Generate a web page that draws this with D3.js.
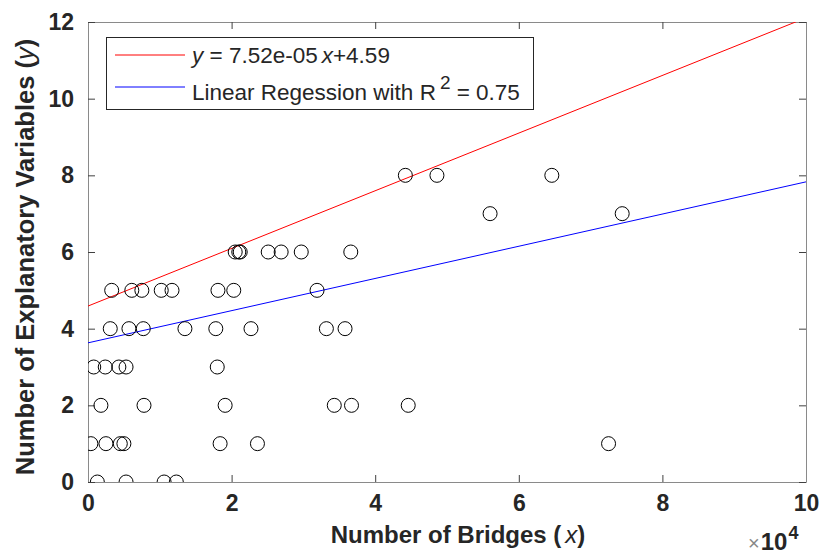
<!DOCTYPE html>
<html>
<head>
<meta charset="utf-8">
<script src="https://cdn.jsdelivr.net/npm/d3@7"></script>
<style>
  body { margin: 0; background: #fff; }
  svg text { font-family: "Liberation Sans", Arial, sans-serif; fill: #262626; }
</style>
</head>
<body>
<svg id="chart" width="822" height="556"></svg>
<script>
// data (x in units of 1e4 bridges, y = number of explanatory variables)
const bridgesX = [
  2.05, 2.10, 2.12, 2.51, 2.69, 2.97, 3.66,
  0.33, 0.61, 0.75, 1.02, 1.17, 1.81, 2.03, 3.19,
  0.31, 0.57, 0.77, 1.35, 1.78, 2.27, 3.32, 3.58,
  0.08, 0.24, 0.43, 0.53, 1.80,
  0.18, 0.78, 1.91, 3.43, 3.67, 4.46,
  0.04, 0.25, 0.45, 0.50, 1.84, 2.36, 7.25,
  0.13, 0.53, 1.06, 1.23,
  4.42, 4.86, 6.46,
  5.60, 7.44
];
const variablesY = [
  6, 6, 6, 6, 6, 6, 6,
  5, 5, 5, 5, 5, 5, 5, 5,
  4, 4, 4, 4, 4, 4, 4, 4,
  3, 3, 3, 3, 3,
  2, 2, 2, 2, 2, 2,
  1, 1, 1, 1, 1, 1, 1,
  0, 0, 0, 0,
  8, 8, 8,
  7, 7
];
// fitted lines: [intercept, slope per 1e4]
const redFit = [4.59, 0.752];
const blueFit = [3.63, 0.42];
const xTicks = [0, 2, 4, 6, 8, 10];
const yTicks = [0, 2, 4, 6, 8, 10, 12];

const attr = { left: 88, top: 22, right: 806, bottom: 482 };
const svg = d3.select("svg#chart");

const x = d3.scaleLinear().domain([0, 10]).range([attr.left, attr.right]);
const y = d3.scaleLinear().domain([0, 12]).range([attr.bottom, attr.top]);

svg.append("clipPath").attr("id", "clip")
  .append("rect")
  .attr("x", attr.left).attr("y", attr.top)
  .attr("width", attr.right - attr.left).attr("height", attr.bottom - attr.top);

// axes box with inward ticks on all sides
const tickLen = 7;
const axisColor = "#8a8a8a";
function styleAxis(g) {
  g.select(".domain").attr("stroke", axisColor).attr("stroke-width", 1);
  g.selectAll(".tick line").attr("stroke", "#404040");
  g.selectAll(".tick text")
    .style("font-size", "23px").style("font-weight", "bold")
    .attr("fill", "#262626");
}

svg.append("g")
  .attr("transform", `translate(0,${attr.bottom})`)
  .call(d3.axisBottom(x).tickValues(xTicks).tickSize(-tickLen).tickSizeOuter(0).tickPadding(13).tickFormat(d3.format("d")))
  .call(styleAxis);
svg.append("g")
  .attr("transform", `translate(0,${attr.top})`)
  .call(d3.axisTop(x).tickValues(xTicks).tickSize(-tickLen).tickSizeOuter(0).tickFormat(""))
  .call(styleAxis);
svg.append("g")
  .attr("transform", `translate(${attr.left},0)`)
  .call(d3.axisLeft(y).tickValues(yTicks).tickSize(-tickLen).tickSizeOuter(0).tickPadding(14).tickFormat(d3.format("d")))
  .call(styleAxis);
svg.append("g")
  .attr("transform", `translate(${attr.right},0)`)
  .call(d3.axisRight(y).tickValues(yTicks).tickSize(-tickLen).tickSizeOuter(0).tickFormat(""))
  .call(styleAxis);

// fitted lines
const plot = svg.append("g").attr("clip-path", "url(#clip)");
const fitLine = d3.line().x(d => x(d[0])).y(d => y(d[1]));
[[redFit, "#ff0000"], [blueFit, "#0000ff"]].forEach(([f, c]) => {
  plot.append("path")
    .datum(x.domain().map(v => [v, f[0] + f[1] * v]))
    .attr("d", fitLine)
    .attr("fill", "none")
    .attr("stroke", c)
    .attr("stroke-width", 1);
});

// scatter points
plot.selectAll("circle.pt")
  .data(bridgesX.map((v, i) => [v, variablesY[i]]))
  .enter()
  .append("circle")
  .attr("class", "pt")
  .attr("cx", d => x(d[0]))
  .attr("cy", d => y(d[1]))
  .attr("r", 7)
  .attr("fill", "none")
  .attr("stroke", "#000")
  .attr("stroke-width", 1);

// legend
const legend = svg.append("g");
legend.append("rect")
  .attr("x", 106.5).attr("y", 37.5).attr("width", 427).attr("height", 72)
  .attr("fill", "#fff").attr("stroke", "#262626").attr("stroke-width", 1);
legend.append("line").attr("x1", 115).attr("x2", 185).attr("y1", 55).attr("y2", 55)
  .attr("stroke", "#ff0000");
legend.append("line").attr("x1", 115).attr("x2", 185).attr("y1", 87).attr("y2", 87)
  .attr("stroke", "#0000ff");

const t1 = legend.append("text").attr("x", 192).attr("y", 63).style("font-size", "22.5px");
t1.append("tspan").style("font-style", "italic").text("y");
t1.append("tspan").text(" = 7.52e-05");
t1.append("tspan").style("font-style", "italic").attr("dx", 4).text("x");
t1.append("tspan").text("+4.59");

const t2 = legend.append("text").attr("x", 192).attr("y", 100).style("font-size", "22.5px");
t2.append("tspan").text("Linear Regession with R");
t2.append("tspan").attr("dx", 4).attr("dy", -11).style("font-size", "19px").text("2");
t2.append("tspan").attr("dy", 11).text(" = 0.75");

// axis labels
const xl = svg.append("text")
  .attr("x", 458).attr("y", 543)
  .attr("text-anchor", "middle")
  .style("font-size", "24px").style("font-weight", "bold");
xl.append("tspan").text("Number of Bridges (");
xl.append("tspan").style("font-style", "italic").style("font-weight", "normal").attr("dx", 4).text("x");
xl.append("tspan").text(")");

const yl = svg.append("text")
  .attr("transform", `translate(34,257) rotate(-90)`)
  .attr("text-anchor", "middle")
  .style("font-size", "25.5px").style("font-weight", "bold");
yl.append("tspan").text("Number of Explanatory Variables (");
yl.append("tspan").style("font-style", "italic").style("font-weight", "normal").text("y");
yl.append("tspan").text(")");

// exponent label
const ex = svg.append("text").attr("x", 748).attr("y", 550)
  .style("font-size", "24px").style("font-weight", "bold");
ex.append("tspan").style("fill", "#888").style("font-size", "20px").style("font-weight", "normal").text("×");
ex.append("tspan").attr("dx", 1).text("10");
ex.append("tspan").attr("dx", 1).attr("dy", -11).style("font-size", "18px").text("4");
</script>
</body>
</html>
